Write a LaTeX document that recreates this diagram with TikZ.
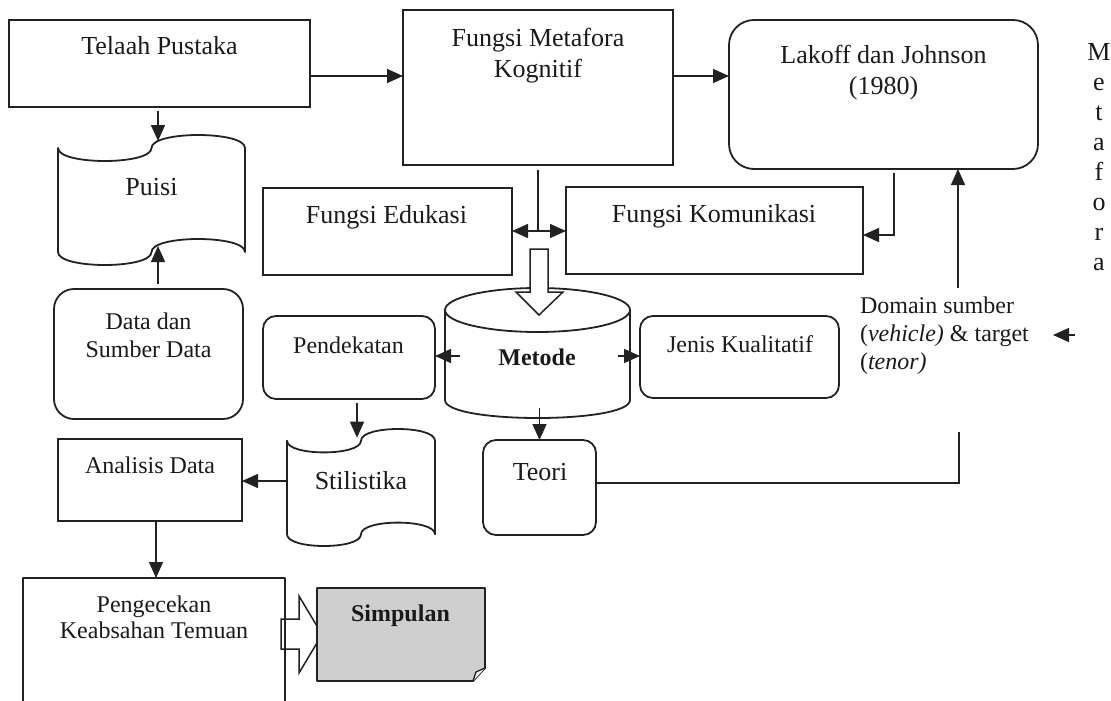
\documentclass[tikz,border=0pt]{standalone}
\usepackage{fontspec}
\setmainfont{Liberation Serif}
\usetikzlibrary{arrows.meta,calc}
\definecolor{lc}{HTML}{222222}
\definecolor{tc}{HTML}{1A1A1A}
\definecolor{sg}{HTML}{CFCFCF}
\newcommand{\drawtape}[4]{%
  \pgfmathsetmacro\tpA{#1}\pgfmathsetmacro\tpM{#1+#3/2}\pgfmathsetmacro\tpB{#1+#3}%
  \pgfmathsetmacro\tpb{#4/10}%
  \pgfmathsetmacro\tyA{#2+\tpb}%
  \pgfmathsetmacro\tyAd{\tyA+4*\tpb/3}%
  \pgfmathsetmacro\tyAu{\tyA-4*\tpb/3}%
  \pgfmathsetmacro\tyB{#2+9*\tpb}%
  \pgfmathsetmacro\tyBd{\tyB+4*\tpb/3}%
  \pgfmathsetmacro\tyBu{\tyB-4*\tpb/3}%
  \draw[shapeline] (\tpA,\tyA) .. controls (\tpA,\tyAd) and (\tpM,\tyAd) .. (\tpM,\tyA)
    .. controls (\tpM,\tyAu) and (\tpB,\tyAu) .. (\tpB,\tyA) -- (\tpB,\tyB)
    .. controls (\tpB,\tyBu) and (\tpM,\tyBu) .. (\tpM,\tyB)
    .. controls (\tpM,\tyBd) and (\tpA,\tyBd) .. (\tpA,\tyB) -- cycle;%
}
\tikzset{
  shapeline/.style={draw=lc, line width=1.8pt, line join=round},
  box/.style={draw=lc, line width=1.8pt, inner sep=0pt, outer sep=0pt},
  rbox/.style={box, rounded corners=#1},
  ghost/.style={draw=none, inner sep=0pt, outer sep=0pt},
  conn/.style={draw=lc, line width=1.5pt},
  arr/.style={conn, -{Triangle[length=16pt,width=14pt]}},
  arrboth/.style={conn, {Triangle[length=16pt,width=14pt]}-{Triangle[length=16pt,width=14pt]}},
  hollow/.style={draw=lc, line width=1.5pt, line join=miter},
  lbl/.style={inner sep=0pt, outer sep=0pt, text=tc},
  fa/.style={font=\fontsize{26}{31}\selectfont},
  fb/.style={font=\fontsize{24}{28}\selectfont},
}
\begin{document}
\begin{tikzpicture}[x=1pt,y=-1pt]
\useasboundingbox (0,0) rectangle (1111,701);

% ---- boxes
\node[box, minimum width=301pt, minimum height=87pt] (tp) at (159.5,63.5) {};
\node[box, minimum width=270pt, minimum height=155pt] (fm) at (538,87.5) {};
\node[rbox=25pt, minimum width=309pt, minimum height=149pt] (lk) at (883.5,94.5) {};
\node[ghost, minimum width=187pt, minimum height=104pt] (puisi) at (151.5,200) {};
\drawtape{58}{135}{187}{130}
\node[rbox=20pt, minimum width=189pt, minimum height=130pt] (data) at (148.5,354) {};
\node[box, minimum width=249pt, minimum height=87pt] (edu) at (387.5,231.5) {};
\node[box, minimum width=297pt, minimum height=87pt] (kom) at (714.5,230.5) {};
% cylinder
\node[ghost, minimum width=185pt, minimum height=130pt] (met) at (537.5,353) {};
\draw[shapeline] (445,310) -- (445,400) .. controls (445,424) and (630,424) .. (630,400) -- (630,310);
\draw[shapeline] (537.5,310) ellipse [x radius=92.5, y radius=22];
\draw[hollow, fill=white] (530,249) -- (548,249) -- (548,292) -- (563,292) -- (539,315) -- (516,292) -- (530,292) -- cycle;
\node[rbox=13pt, minimum width=172pt, minimum height=83pt] (pend) at (349,357.5) {};
\node[rbox=13pt, minimum width=199pt, minimum height=82pt] (jenis) at (739.5,357) {};
\node[rbox=13pt, minimum width=113pt, minimum height=95pt] (teori) at (539.5,487.5) {};
\node[ghost, minimum width=148pt, minimum height=93.6pt] (stil) at (361,487.5) {};
\drawtape{287}{429}{148}{117}
\node[box, minimum width=184pt, minimum height=82pt] (ana) at (150,480) {};
% Pengecekan (open at the bottom)
\node[ghost, minimum width=262pt, minimum height=123pt] (peng) at (154,639.5) {};
\draw[hollow] (281,619) -- (299,619) -- (299,596) -- (322,634.5) -- (299,673) -- (299,649) -- (281,649) -- cycle;
\draw[shapeline] (peng.south west) -- (peng.north west) -- (peng.north east) -- (peng.south east);
% Simpulan
\node[ghost, minimum width=168pt, minimum height=93pt] (simp) at (401,634.5) {};
\draw[shapeline, fill=sg] (simp.north west) -- (simp.north east) -- ($(simp.south east)+(0,-13)$)
  -- ($(simp.south east)+(-12,0)$) -- (simp.south west) -- cycle;
\draw[shapeline, line width=1.3pt, fill=white!90!sg] ($(simp.south east)+(-12,0)$) -- ($(simp.south east)+(-9,-9)$) -- ($(simp.south east)+(0,-13)$);

% ---- texts
\node[lbl, fa, anchor=base] (tpt) at (159.5,55) {Telaah Pustaka};
\node[lbl, fa, align=center, anchor=north] (fmt) at (538,28.2) {Fungsi Metafora\\Kognitif};
\node[lbl, fa, align=center, anchor=north] (lkt) at (883.5,45.2) {Lakoff dan Johnson\\(1980)};
\node[lbl, font=\fontsize{26}{30}\selectfont, align=center, anchor=north] (metaf) at (1099,43) {M\\e\\t\\a\\f\\o\\r\\a};
\node[lbl, fa, anchor=base] (puisit) at (151.5,195) {Puisi};
\node[lbl, fb, align=center, anchor=north] (datat) at (148.5,312.6) {Data dan\\Sumber Data};
\node[lbl, fa, anchor=base] (edut) at (386.5,223) {Fungsi Edukasi};
\node[lbl, fa, anchor=base] (komt) at (714,222) {Fungsi Komunikasi};
\node[lbl, fb, anchor=base] (metodet) at (537,365) {\bfseries Metode};
\node[lbl, fb, anchor=base] (pendt) at (348.5,353) {Pendekatan};
\node[lbl, fb, anchor=base] (jenist) at (740,352) {Jenis Kualitatif};
\node[lbl, fb, align=left, anchor=north west] (dom) at (860,296.6) {Domain sumber\\(\textit{vehicle)} \& target\\(\textit{tenor)}};
\node[lbl, fb, anchor=base] (anat) at (150,473) {Analisis Data};
\node[lbl, fa, anchor=base] (stilt) at (361,489) {Stilistika};
\node[lbl, fa, anchor=base] (teorit) at (540,480) {Teori};
\node[lbl, font=\fontsize{24}{26.6}\selectfont, align=center, anchor=north] (pengt) at (154,595.6) {Pengecekan\\Keabsahan Temuan};
\node[lbl, fb, anchor=base] (simpt) at (400.5,621) {\bfseries Simpulan};

% ---- connectors
\coordinate (yA) at (0,76);
\draw[arr] (tp.east |- yA) -- (fm.west |- yA);
\draw[arr] (fm.east |- yA) -- (lk.west |- yA);
\coordinate (xP) at (158,0);
\draw[arr, shorten <=4pt] (tp.south -| xP) -- ($(puisi.north -| xP)+(0,-7)$);
\draw[arr, shorten <=5pt] (data.north -| xP) -- ($(puisi.south -| xP)+(0,-6)$);
\coordinate (yB) at (0,231);
\draw[conn, shorten <=5pt] (fm.south) -- (fm.south |- yB);
\draw[arrboth] (edu.east |- yB) -- (kom.west |- yB);
\coordinate (cK) at (894,235);
\draw[arr, shorten <=4pt] (lk.south -| cK) |- (kom.east |- cK);
\coordinate (cD) at (958,288);
\draw[arr] (cD) -- (lk.south -| cD);
\coordinate (yT) at (0,483);
\coordinate (cT) at (959,432);
\draw[conn] (teori.east |- yT) -| (cT);
\coordinate (sa1) at (1075,335);
\coordinate (sa2) at (1053,335);
\draw[arr] (sa1) -- (sa2);
\coordinate (yM) at (0,356);
\draw[arr] ($(met.west |- yM)+(15,0)$) -- (pend.east |- yM);
\draw[arr] ($(met.east |- yM)+(-12,0)$) -- (jenis.west |- yM);
\draw[arr] ($(met.south -| teori.north)+(0,-10)$) -- (teori.north);
\coordinate (xS) at (357,0);
\draw[arr, shorten <=4pt] (pend.south -| xS) -- ($(stil.north -| xS)+(0,-3)$);
\coordinate (yS) at (0,481);
\draw[arr] (stil.west |- yS) -- (ana.east |- yS);
\coordinate (xA) at (156,0);
\draw[arr] (ana.south -| xA) -- (peng.north -| xA);
\end{tikzpicture}
\end{document}
